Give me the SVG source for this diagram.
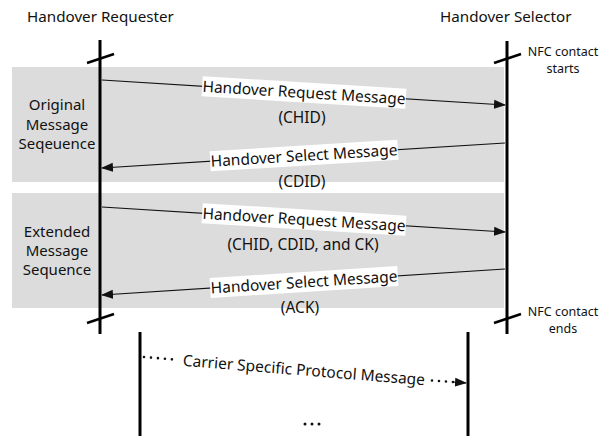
<svg xmlns="http://www.w3.org/2000/svg" width="613" height="436" viewBox="0 0 613 436">
  <defs>
    <style>
      .t { font-family: "Noto Sans", "Open Sans", "Liberation Sans", sans-serif; fill: #111; }
      .hdr { font-size: 15.2px; }
      .side { font-size: 15px; text-anchor: middle; }
      .nfc { font-size: 12.5px; text-anchor: middle; }
      .msg { font-size: 15.5px; text-anchor: middle; }
      .life { stroke: #000; stroke-width: 3; fill: none; }
      .tick { stroke: #000; stroke-width: 2.5; fill: none; }
      .arr { stroke: #111; stroke-width: 1.2; fill: none; }
      .dot { stroke: #111; stroke-width: 2.6; stroke-linecap: round; stroke-dasharray: 0 7; fill: none; }
      .band { fill: #dcdcdc; }
      .lbl { fill: #fff; }
    </style>
    <marker id="head" markerUnits="userSpaceOnUse" markerWidth="12" markerHeight="10" viewBox="0 0 12 10" refX="11" refY="5" orient="auto">
      <path d="M0,0.5 L12,5 L0,9.5 Z" fill="#111"/>
    </marker>
  </defs>

  <rect width="613" height="436" fill="#fff"/>

  <!-- shaded message sequence bands -->
  <g id="bands">
    <rect class="band" x="12" y="67" width="492" height="115"/>
    <rect class="band" x="12" y="193" width="492" height="115"/>
  </g>

  <!-- headers -->
  <g id="requester-title">
    <text class="t hdr" x="27" y="22">Handover Requester</text>
  </g>
  <g id="selector-title">
    <text class="t hdr" x="440" y="22">Handover Selector</text>
  </g>

  <!-- section captions -->
  <g id="original-sequence">
    <text class="t side" x="57" y="110">Original</text>
    <text class="t side" x="57" y="130">Message</text>
    <text class="t side" x="57" y="149">Seqeuence</text>
  </g>
  <g id="extended-sequence">
    <text class="t side" x="57" y="237">Extended</text>
    <text class="t side" x="57" y="256">Message</text>
    <text class="t side" x="57" y="275">Sequence</text>
  </g>

  <!-- NFC contact notes -->
  <g id="nfc-start">
    <text class="t nfc" x="563" y="56">NFC contact</text>
    <text class="t nfc" x="563" y="73">starts</text>
  </g>
  <g id="nfc-end">
    <text class="t nfc" x="563" y="316">NFC contact</text>
    <text class="t nfc" x="563" y="333">ends</text>
  </g>

  <!-- lifelines -->
  <g id="requester-lifeline">
    <line class="life" x1="100" y1="40" x2="100" y2="334"/>
    <line class="tick" x1="87" y1="63" x2="114" y2="54"/>
    <line class="tick" x1="87" y1="323" x2="114" y2="314"/>
  </g>
  <g id="selector-lifeline">
    <line class="life" x1="507" y1="41" x2="507" y2="334"/>
    <line class="tick" x1="494" y1="63" x2="521" y2="54"/>
    <line class="tick" x1="494" y1="323" x2="521" y2="314"/>
  </g>
  <g id="carrier-left-lifeline">
    <line class="life" x1="140" y1="332" x2="140" y2="436"/>
  </g>
  <g id="carrier-right-lifeline">
    <line class="life" x1="468" y1="332" x2="468" y2="436"/>
  </g>

  <!-- connectors -->
  <g id="connectors">
    <line class="arr" x1="102" y1="80" x2="505" y2="105" marker-end="url(#head)"/>
    <line class="arr" x1="505" y1="143" x2="102" y2="168" marker-end="url(#head)"/>
    <line class="arr" x1="102" y1="207" x2="505" y2="232" marker-end="url(#head)"/>
    <line class="arr" x1="505" y1="269" x2="102" y2="295" marker-end="url(#head)"/>

    <line class="dot" x1="144" y1="357" x2="174" y2="359.5"/>
    <line class="dot" x1="432" y1="380.5" x2="453" y2="382"/>
    <line class="arr" x1="453" y1="382" x2="466" y2="383" marker-end="url(#head)"/>
  </g>

  <!-- message labels -->
  <g id="msg-request-1" transform="translate(304,92.5) rotate(3.56)">
    <rect class="lbl" x="-102" y="-10" width="204" height="20"/>
    <text class="t msg" x="0" y="5.5">Handover Request Message</text>
  </g>
  <text class="t msg" x="302" y="123">(CHID)</text>

  <g id="msg-select-1" transform="translate(304,155.5) rotate(-3.56)">
    <rect class="lbl" x="-94" y="-10" width="188" height="20"/>
    <text class="t msg" x="0" y="5.5">Handover Select Message</text>
  </g>
  <text class="t msg" x="302" y="187">(CDID)</text>

  <g id="msg-request-2" transform="translate(304,219.5) rotate(3.56)">
    <rect class="lbl" x="-102" y="-10" width="204" height="20"/>
    <text class="t msg" x="0" y="5.5">Handover Request Message</text>
  </g>
  <text class="t msg" x="303" y="250">(CHID, CDID, and CK)</text>

  <g id="msg-select-2" transform="translate(304,282) rotate(-3.7)">
    <rect class="lbl" x="-94" y="-10" width="188" height="20"/>
    <text class="t msg" x="0" y="5.5">Handover Select Message</text>
  </g>
  <text class="t msg" x="300" y="313">(ACK)</text>

  <g id="msg-carrier" transform="translate(304,370) rotate(4.59)">
    <text class="t msg" x="0" y="5.5">Carrier Specific Protocol Message</text>
  </g>

  <g id="continuation">
    <circle cx="305" cy="424" r="1.5" fill="#111"/>
    <circle cx="312" cy="424" r="1.5" fill="#111"/>
    <circle cx="319" cy="424" r="1.5" fill="#111"/>
  </g>
</svg>
